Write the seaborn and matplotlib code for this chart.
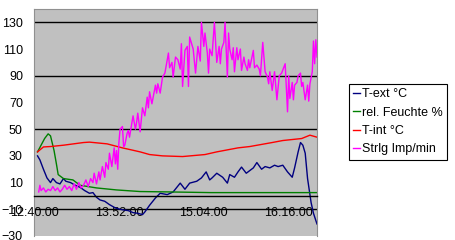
import matplotlib
matplotlib.use('Agg')
import matplotlib.pyplot as plt
import seaborn as sns
import pandas as pd

series_names = ['T-ext °C', 'rel. Feuchte %', 'T-int °C', 'Strlg Imp/min']
series_colors = ['#000080', '#008000', '#FF0000', '#FF00FF']

x_tick_minutes = [0, 72, 144, 216]
x_tick_labels = ['12:40:00', '13:52:00', '15:04:00', '16:16:00']
y_ticks = [-30, -10, 10, 30, 50, 70, 90, 110, 130]
grid_levels = [130, 90, 50, -10]

# (minutes after 12:40, value)
t_ext = [(3, 30), (5, 27), (8, 20), (11, 13.5), (14, 10), (16, 13), (19, 10), (22, 9),
         (25, 13), (27, 11), (31, 10), (35, 8), (39, 6.5), (43, 4), (47, 2), (50, 2.5),
         (53, -1), (56, -3), (60, -4), (64, -6.5), (69, -9), (73, -10), (76, -10.5),
         (80, -11), (84, -12.5), (88, -13), (92, -14), (94, -12), (98, -7), (103, -1.5),
         (107, 2), (113, 1), (118, 3), (124, 9.6), (128, 5), (132, 9.6), (138, 11),
         (142, 13.5), (146, 18), (149, 12), (151, 13.5), (155, 17), (160, 14), (164, 9.6),
         (166, 16), (170, 14), (173, 18), (176, 21.6), (180, 17), (183, 19), (186, 21),
         (189, 25), (193, 20), (196, 22), (200, 21), (204, 23), (207, 22), (211, 23),
         (215, 18), (219, 14), (221, 21), (224, 33), (226, 40), (228, 38), (230, 32),
         (232, 13), (235, -5), (237, -13), (240, -21)]

feuchte = [(3, 33), (6, 38), (9, 43), (12, 46.5), (14, 45), (17, 34), (19, 24), (20.5, 16),
           (25, 13), (33, 12), (39, 8), (53, 6), (70, 4.5), (90, 3.3), (115, 3),
           (150, 2.5), (240, 2.5)]

t_int = [(3, 33), (8, 36.7), (14, 37), (25, 38), (42, 40), (47, 40.3), (62, 39), (75, 36),
         (90, 33), (98, 31), (109, 30), (126, 29.5), (145, 31), (155, 33), (173, 36),
         (183, 37), (202, 40), (211, 41.5), (227, 43), (234, 45.5), (238, 44.5), (240, 44)]

strlg = [(4, 3), (5, 8), (6, 4), (8, 6), (10, 3), (12, 5), (14, 4), (16, 7), (18, 4), (20, 6),
         (22, 3), (24, 5), (26, 8), (28, 5), (30, 7), (32, 4), (34, 9), (36, 5), (38, 10),
         (40, 6), (42, 8), (44, 12), (46, 7), (48, 13), (50, 10), (51, 17), (53, 9), (55, 18),
         (56, 12), (58, 22), (60, 14), (61, 25), (63, 20), (64, 32), (66, 22), (68, 36),
         (69, 24), (70, 34), (71, 20), (72, 40), (73, 50), (75, 52), (76, 37), (77, 38),
         (79, 47), (80, 49), (81, 44), (84, 60), (86, 50), (87, 55), (88, 62), (90, 48),
         (92, 66), (94, 60), (96, 74), (97, 66), (98, 78), (100, 69), (103, 83), (104, 77),
         (105, 84), (107, 77), (109, 89), (111, 92), (114, 107), (115, 96), (117, 100),
         (118, 89), (120, 104), (122, 102), (124, 95), (125, 114), (126, 82), (128, 109),
         (130, 112), (131, 82), (132, 119), (135, 110), (137, 92), (139, 112), (141, 101),
         (142, 130), (144, 112), (145, 122), (147, 107), (148, 92), (149, 110), (151, 105),
         (153, 130), (155, 100), (157, 112), (158, 99), (159, 110), (161, 115), (162, 130),
         (164, 89), (165, 122), (166, 110), (168, 102), (169, 111), (170, 93), (172, 111),
         (173, 102), (175, 110), (176, 94), (178, 104), (179, 99), (181, 94), (182, 102),
         (183, 96), (186, 109), (187, 96), (189, 98), (191, 95), (192, 90), (193, 102),
         (194, 115), (196, 93), (198, 89), (199, 84), (200, 93), (202, 79), (204, 93),
         (206, 72), (208, 90), (210, 92), (213, 99), (215, 63), (216, 90), (217, 73),
         (219, 85), (220, 72), (221, 83), (223, 85), (224, 90), (226, 92), (227, 82),
         (228, 85), (230, 72), (232, 83), (233, 71), (234, 84), (236, 93), (237, 116),
         (238, 99), (239, 117), (240, 104)]

rows = []
for name, pts in zip(series_names, [t_ext, feuchte, t_int, strlg]):
    for t, v in pts:
        rows.append((t, v, name))
df = pd.DataFrame(rows, columns=['minute', 'value', 'series'])

plt.rcParams['font.family'] = ['Liberation Sans', 'DejaVu Sans']

W, H = 455, 240
fig = plt.figure(figsize=(W / 100, H / 100), dpi=100)
ax = fig.add_axes([34 / W, 4 / H, 283 / W, 227 / H])
ax.set_facecolor('#C0C0C0')

for lvl in grid_levels:
    ax.axhline(lvl, color='black', lw=1.0, zorder=1)

sns.lineplot(data=df, x='minute', y='value', hue='series', hue_order=series_names,
             palette=series_colors, estimator=None, sort=False, lw=1.0, ax=ax)

ax.set_xlim(0, 240)
ax.set_ylim(-30, 140)
ax.set_xticks(x_tick_minutes, x_tick_labels)
ax.set_yticks(y_ticks)
ax.grid(False)
ax.tick_params(axis='both', which='both', length=0, labelsize=9, colors='black')
ax.tick_params(axis='x', pad=8)
ax.tick_params(axis='y', pad=8)
ax.set_xlabel('')
ax.set_ylabel('')

ax.spines['bottom'].set_position(('data', 0))
ax.spines['bottom'].set_color('black')
ax.spines['bottom'].set_linewidth(1.0)
for s in ['left', 'top', 'right']:
    ax.spines[s].set_color('#909090')
    ax.spines[s].set_linewidth(0.8)

sns.move_legend(ax, 'upper left', bbox_to_anchor=(349 / W, 1 - 84 / H),
                bbox_transform=fig.transFigure, title=None, frameon=True,
                fancybox=False, edgecolor='black', framealpha=1, facecolor='white',
                borderpad=0.35, handlelength=0.55, handletextpad=0.15,
                labelspacing=0.5, borderaxespad=0, fontsize=9)
ax.get_legend().get_frame().set_linewidth(0.8)

fig.savefig('out.png', dpi=100)
